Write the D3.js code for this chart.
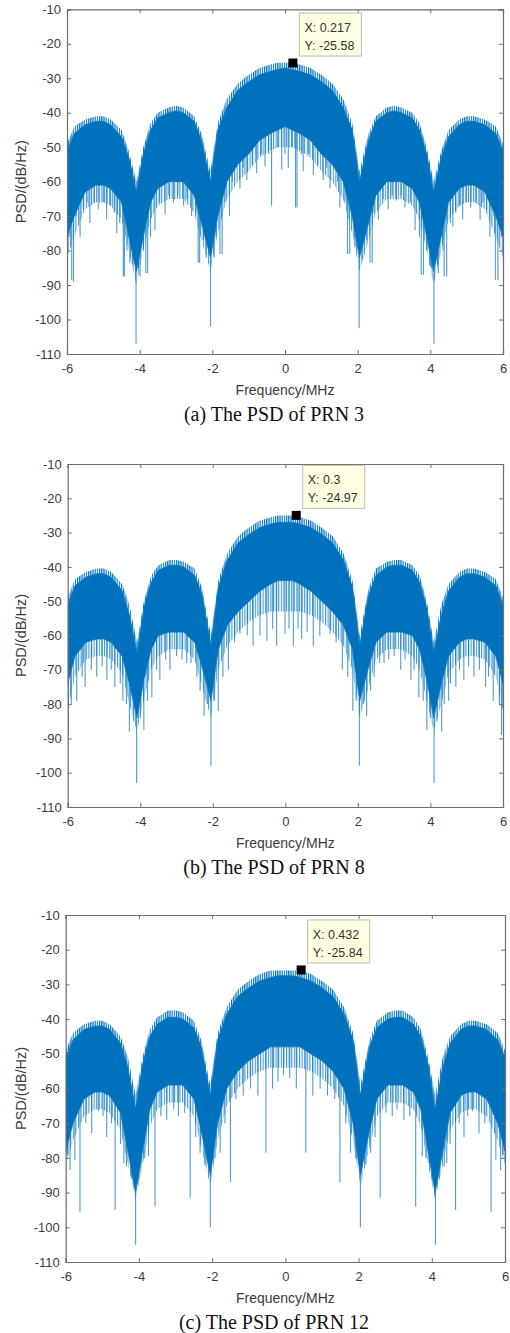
<!DOCTYPE html>
<html>
<head>
<meta charset="utf-8">
<script src="https://cdn.jsdelivr.net/npm/d3@7"></script>
<style>
  body { margin: 0; background: #fff; }
  svg { display: block; }
</style>
</head>
<body>
<script>
const freq = [-6, -5.8, -5.5, -5.2, -5.0, -4.8, -4.5, -4.3, -4.09, -3.9, -3.7, -3.5, -3.2, -3.0, -2.8, -2.5, -2.3, -2.05,
  -1.85, -1.6, -1.3, -1.0, -0.7, -0.4, -0.2, 0, 0.2, 0.4, 0.7, 1.0, 1.3, 1.6, 1.85,
  2.05, 2.3, 2.5, 2.8, 3.0, 3.2, 3.5, 3.7, 3.9, 4.09, 4.3, 4.5, 4.8, 5.0, 5.2, 5.5, 5.8, 6];

// PRN 3: hair tips, top of dense band, bottom of dense band, bottom of light fringe (dB/Hz)
const hair3 = [-49, -44, -42, -41, -41, -42, -45, -51, -60, -50, -43, -40, -38.5, -38, -38.5, -41, -46, -57,
  -43, -36, -31.5, -29, -27, -26, -25.5, -25.5, -25.5, -26, -27, -29, -31.5, -36, -43,
  -57, -46, -41, -38.5, -38, -38.5, -40, -43, -50, -60, -51, -45, -42, -41, -41, -42, -44, -49];
const upper3 = [-51, -46, -43.5, -42.5, -42.5, -43.5, -47, -53, -63, -52, -45, -41.5, -40, -39.5, -40, -42.5, -48, -60,
  -45, -38.5, -33.5, -31, -29, -28, -27.5, -27, -27.5, -28, -29, -31, -33.5, -38.5, -45,
  -60, -48, -42.5, -40, -39.5, -40, -41.5, -45, -52, -63, -53, -47, -43.5, -42.5, -42.5, -43.5, -46, -51];
const lower3 = [-76, -70, -63, -61, -61, -62, -66, -76, -86, -76, -66, -62, -60, -60, -60, -64, -72, -82,
  -70, -60, -55, -52, -48, -46, -45, -44, -45, -46, -48, -52, -55, -60, -70,
  -82, -72, -64, -60, -60, -60, -62, -66, -76, -86, -76, -66, -62, -61, -61, -63, -70, -76];
const fringe3 = [-82, -76, -68, -66, -66, -67, -71, -80, -90, -80, -71, -67, -65, -65, -65, -69, -77, -86,
  -75, -65, -60, -57, -53, -51, -50, -50, -50, -51, -53, -57, -60, -65, -75,
  -86, -77, -69, -65, -65, -65, -67, -71, -80, -90, -80, -71, -67, -66, -66, -68, -76, -82];
// single deep lines below the band: [frequency, dB/Hz]
const spikes3 = [[-5.94, -76], [-5.87, -88.5], [-5.82, -89], [-5.75, -70], [-5.64, -76], [-5.55, -68], [-5.45, -66],
  [-5.37, -72], [-5.25, -66], [-5.14, -68], [-5.0, -66], [-4.91, -71], [-4.8, -67], [-4.7, -69], [-4.63, -75],
  [-4.55, -72], [-4.45, -87.5], [-4.42, -87.5], [-4.35, -80], [-4.27, -83.5], [-4.2, -84], [-4.1, -107],
  [-4.03, -85], [-3.99, -87.5], [-3.9, -80], [-3.83, -86.5], [-3.78, -86.5], [-3.7, -76], [-3.58, -74],
  [-3.45, -66], [-3.3, -69.5], [-3.2, -64], [-3.07, -66], [-2.95, -64], [-2.79, -67], [-2.7, -65], [-2.57, -70],
  [-2.45, -69], [-2.39, -83.5], [-2.35, -83.5], [-2.25, -77], [-2.17, -82], [-2.1, -80], [-2.05, -102],
  [-1.95, -82], [-1.9, -76], [-1.79, -81], [-1.73, -81], [-1.65, -66], [-1.53, -70], [-1.45, -60], [-1.24, -62],
  [-1.15, -56], [-1.05, -59.5], [-0.9, -55], [-0.78, -57.5], [-0.65, -52], [-0.55, -55.5], [-0.45, -52],
  [-0.37, -67], [-0.2, -50], [-0.09, -56.5], [0.0, -52], [0.09, -56], [0.2, -50], [0.29, -67.5], [0.33, -67.5],
  [0.45, -52], [0.5, -57], [0.65, -52], [0.78, -58], [0.9, -55], [1.05, -59.5], [1.15, -56], [1.24, -62],
  [1.45, -60], [1.51, -67.5], [1.65, -66], [1.72, -81], [1.78, -81], [1.9, -76], [1.93, -79], [2.04, -102.5],
  [2.1, -80], [2.14, -82.5], [2.25, -77], [2.34, -83.5], [2.4, -83.5], [2.45, -69], [2.57, -71], [2.7, -65],
  [2.84, -68], [2.95, -64], [3.07, -65.5], [3.2, -64], [3.3, -67.5], [3.45, -66], [3.58, -74], [3.7, -76],
  [3.75, -87], [3.81, -87], [3.9, -80], [4.0, -84.5], [4.03, -85], [4.1, -107], [4.2, -84], [4.22, -86.5],
  [4.35, -80], [4.38, -87.5], [4.45, -87.5], [4.55, -72], [4.62, -73], [4.7, -69], [4.8, -67], [4.89, -71],
  [5.0, -66], [5.11, -67.5], [5.25, -66], [5.37, -71], [5.45, -66], [5.55, -68], [5.64, -76], [5.75, -70],
  [5.79, -88.5], [5.86, -88.5], [5.96, -76]];

// PRN 8
const hair8 = [-49, -43.5, -41.5, -40.5, -40.5, -41.5, -45, -51, -62, -50, -42.5, -39.5, -38, -38, -38.5, -40.5, -46, -60,
  -44, -36, -31, -28.5, -26.5, -25.5, -25, -25, -25, -25.5, -26.5, -28.5, -31, -36, -44,
  -60, -46, -40.5, -38.5, -38, -38, -39.5, -42.5, -50, -62, -51, -45, -41.5, -40.5, -40.5, -41.5, -43.5, -49];
const upper8 = [-51, -45.5, -43, -42, -42, -43, -47, -54, -65, -52, -44.5, -41, -39.5, -39.5, -40, -42.5, -48, -63,
  -46, -38, -33, -30.5, -28.5, -27.5, -27, -27, -27, -27.5, -28.5, -30.5, -33, -38, -46,
  -63, -48, -42.5, -40, -39.5, -39.5, -41, -44.5, -52, -65, -54, -47, -43, -42, -42, -43, -45.5, -51];
const lower8 = [-74, -66, -62, -61, -61, -62, -66, -74, -84, -73, -64, -60, -59, -59, -59, -62, -69, -79,
  -64, -57, -53, -50, -47, -45, -44, -44, -44, -45, -47, -50, -53, -57, -64,
  -79, -69, -62, -59, -59, -59, -60, -64, -73, -84, -74, -66, -62, -61, -61, -62, -66, -74];
const fringe8 = [-82, -72, -67, -66, -66, -67, -71, -80, -88, -79, -70, -66, -64, -64, -64, -67, -75, -84,
  -70, -63, -59, -56, -54, -53, -53, -53, -53, -53, -54, -56, -59, -63, -70,
  -84, -75, -67, -64, -64, -64, -66, -70, -79, -88, -80, -71, -67, -66, -66, -67, -72, -82];
const spikes8 = [[-5.98, -89], [-5.9, -80], [-5.75, -79], [-5.6, -72], [-5.52, -75], [-5.35, -70], [-5.2, -72],
  [-5.05, -69], [-4.92, -73], [-4.8, -70], [-4.7, -75], [-4.55, -74], [-4.48, -79], [-4.38, -80], [-4.3, -88],
  [-4.18, -85], [-4.1, -103], [-4.0, -84], [-3.9, -87.5], [-3.8, -79], [-3.68, -78], [-3.55, -70], [-3.46, -73],
  [-3.3, -67], [-3.18, -70], [-3.0, -66], [-2.85, -67], [-2.72, -68], [-2.6, -68], [-2.44, -72], [-2.35, -76],
  [-2.24, -83.5], [-2.15, -80], [-2.05, -98], [-1.95, -79], [-1.85, -82], [-1.72, -72], [-1.57, -70],
  [-1.4, -62], [-1.25, -59.5], [-1.05, -60], [-0.89, -63], [-0.7, -60], [-0.51, -61.5], [-0.35, -58],
  [-0.24, -63], [-0.01, -59.5], [0.1, -58], [0.22, -63], [0.35, -58], [0.45, -61], [0.6, -59], [0.77, -63],
  [0.95, -60], [1.23, -59.5], [1.4, -62], [1.57, -70], [1.72, -72], [1.86, -82], [1.95, -79], [2.04, -98],
  [2.15, -80], [2.24, -83.5], [2.35, -76], [2.45, -72], [2.6, -68], [2.72, -68], [2.85, -67], [3.0, -66],
  [3.18, -70], [3.3, -67], [3.46, -73], [3.55, -70], [3.68, -78], [3.8, -79], [3.9, -87.5], [4.0, -84],
  [4.1, -103], [4.18, -85], [4.31, -88], [4.38, -80], [4.5, -79], [4.55, -74], [4.7, -75], [4.8, -70],
  [4.92, -73], [5.05, -69], [5.2, -72], [5.35, -70], [5.52, -75], [5.6, -72], [5.73, -79], [5.9, -80], [5.96, -89]];

// PRN 12
const hair12 = [-49, -44, -41.5, -40.5, -40.5, -41.5, -45, -51, -62, -51, -43, -39.5, -37.5, -37.5, -38, -40.5, -46, -59,
  -44, -36.5, -31.5, -29, -27, -26, -26, -26, -26, -26, -27, -29, -31.5, -36.5, -44,
  -59, -46, -40.5, -38, -37.5, -37.5, -39.5, -43, -51, -62, -51, -45, -41.5, -40.5, -40.5, -41.5, -44, -49];
const upper12 = [-51, -46, -43, -42, -42, -43, -47, -54, -66, -53, -45, -41.5, -39.5, -39.5, -40, -42.5, -48, -62,
  -46, -38.5, -33.5, -31, -29, -28, -27.5, -27.5, -27.5, -28, -29, -31, -33.5, -38.5, -46,
  -62, -48, -42.5, -40, -39.5, -39.5, -41.5, -45, -53, -66, -54, -47, -43, -42, -42, -43, -46, -51];
const lower12 = [-78, -70, -63, -61, -61, -62, -67, -78, -90, -78, -66, -61, -59, -59, -59, -63, -72, -85,
  -70, -60, -55, -52, -50, -48, -48, -48, -48, -48, -50, -52, -55, -60, -70,
  -85, -72, -63, -59, -59, -59, -61, -66, -78, -90, -78, -67, -62, -61, -61, -63, -70, -78];
const fringe12 = [-82, -75, -68, -66, -66, -67, -72, -82, -92, -82, -71, -66, -64, -64, -64, -68, -77, -88,
  -75, -65, -60, -57, -55, -54, -54, -54, -54, -54, -55, -57, -60, -65, -75,
  -88, -77, -68, -64, -64, -64, -66, -71, -82, -92, -82, -72, -67, -66, -66, -68, -75, -82];
const spikes12 = [[-5.95, -79], [-5.88, -83.5], [-5.75, -80.5], [-5.61, -95.5], [-5.45, -70], [-5.29, -73],
  [-5.11, -66.5], [-4.98, -68], [-4.88, -74], [-4.75, -70], [-4.65, -95], [-4.5, -76], [-4.41, -81.5],
  [-4.34, -82.5], [-4.2, -86], [-4.09, -105], [-4.0, -86], [-3.92, -81.5], [-3.84, -80], [-3.74, -79.5],
  [-3.56, -94], [-3.4, -68], [-3.24, -69], [-3.05, -66], [-2.92, -68], [-2.75, -67], [-2.6, -91.5],
  [-2.45, -74], [-2.33, -78.5], [-2.2, -82], [-2.05, -100], [-1.92, -80], [-1.78, -78.5], [-1.65, -70],
  [-1.5, -87], [-1.35, -63], [-1.15, -62], [-0.95, -60], [-0.75, -62], [-0.53, -78.5], [-0.35, -60],
  [-0.2, -58], [-0.05, -56], [0.12, -57], [0.3, -60], [0.56, -78.5], [0.75, -62], [0.95, -60], [1.15, -62],
  [1.35, -63], [1.49, -87], [1.65, -70], [1.78, -78.5], [1.92, -80], [2.05, -100], [2.2, -82], [2.33, -78.5],
  [2.45, -74], [2.59, -91.5], [2.75, -67], [2.92, -68], [3.05, -66], [3.24, -69], [3.4, -68], [3.56, -94],
  [3.74, -79.5], [3.84, -80], [3.92, -81.5], [4.0, -86], [4.1, -105], [4.2, -86], [4.34, -82.5], [4.41, -81.5],
  [4.5, -76], [4.65, -95], [4.75, -70], [4.88, -74], [4.98, -68], [5.11, -66.5], [5.29, -73], [5.45, -70],
  [5.62, -95.5], [5.75, -80.5], [5.88, -83.5], [5.95, -79]];

const xTicks = [-6, -4, -2, 0, 2, 4, 6];
const yTicks = [-110, -100, -90, -80, -70, -60, -50, -40, -30, -20, -10];
const tipX = [0.217, 0.3, 0.432];
const tipY = [-25.58, -24.97, -25.84];
const captions = ["(a) The PSD of PRN 3", "(b) The PSD of PRN 8", "(c) The PSD of PRN 12"];

const blue = "#0072bd";
const sans = "'Liberation Sans', Arial, Helvetica, sans-serif";
const serif = "'Liberation Serif', 'Times New Roman', serif";

const svg = d3.select("body").append("svg")
  .attr("width", 510)
  .attr("height", 1333);

// comb textures so the ragged edges read as many thin lines
const defs = svg.append("defs");
defs.append("pattern").attr("id", "hairComb")
  .attr("width", 2.2).attr("height", 20).attr("patternUnits", "userSpaceOnUse")
  .append("rect").attr("width", 1.2).attr("height", 20).attr("fill", blue);
defs.append("pattern").attr("id", "fringeComb")
  .attr("width", 2.6).attr("height", 20).attr("patternUnits", "userSpaceOnUse")
  .append("rect").attr("width", 1.1).attr("height", 20).attr("fill", blue).attr("fill-opacity", 0.75);

// where each axes box sits on the page
const panels = [
  { top: 9.3, bottom: 354, left: 67, right: 503, hair: hair3, upper: upper3, lower: lower3, fringe: fringe3, spikes: spikes3 },
  { top: 464, bottom: 807, left: 67.7, right: 503, hair: hair8, upper: upper8, lower: lower8, fringe: fringe8, spikes: spikes8 },
  { top: 915, bottom: 1262, left: 65.7, right: 505, hair: hair12, upper: upper12, lower: lower12, fringe: fringe12, spikes: spikes12 },
];

panels.forEach((p, i) => {
  const x = d3.scaleLinear().domain([-6, 6]).range([p.left, p.right]);
  const y = d3.scaleLinear().domain([-110, -10]).range([p.bottom, p.top]);
  // piecewise-linear lookup of the band bottom, so a spike starts at the band
  const bandBottom = d3.scaleLinear().domain(freq).range(p.lower);

  const g = svg.append("g");

  g.append("clipPath").attr("id", "clip" + i)
    .append("rect")
    .attr("x", p.left).attr("y", p.top)
    .attr("width", p.right - p.left).attr("height", p.bottom - p.top);

  const plot = g.append("g").attr("clip-path", `url(#clip${i})`);

  const rows = freq.map((f, k) => ({
    f, hair: p.hair[k], hi: p.upper[k], lo: p.lower[k], fr: p.fringe[k],
  }));

  const areaBetween = (a, b) => d3.area()
    .x((d) => x(d.f))
    .y0((d) => y(d[a]))
    .y1((d) => y(d[b]));

  plot.selectAll(".spike")
    .data(p.spikes)
    .join("line")
    .attr("class", "spike")
    .attr("x1", (d) => x(d[0]))
    .attr("x2", (d) => x(d[0]))
    .attr("y1", (d) => y(bandBottom(d[0])))
    .attr("y2", (d) => y(d[1]))
    .attr("stroke", blue)
    .attr("stroke-opacity", 0.7)
    .attr("stroke-width", 1.1);

  plot.append("path")
    .datum(rows)
    .attr("fill", "url(#fringeComb)")
    .attr("d", areaBetween("fr", "lo"));

  plot.append("path")
    .datum(rows)
    .attr("fill", "url(#hairComb)")
    .attr("d", areaBetween("hi", "hair"));

  plot.append("path")
    .datum(rows)
    .attr("fill", blue)
    .attr("stroke", blue)
    .attr("stroke-width", 0.8)
    .attr("d", areaBetween("lo", "hi"));

  // axes: ticks point inward on all four sides (MATLAB box)
  const axisColor = "#6e6e6e";
  const bottomAxis = g.append("g")
    .attr("transform", `translate(0,${p.bottom})`)
    .call(d3.axisBottom(x).tickValues(xTicks).tickSize(-4).tickPadding(10));
  const topAxis = g.append("g")
    .attr("transform", `translate(0,${p.top})`)
    .call(d3.axisTop(x).tickValues(xTicks).tickSize(-4).tickFormat(""));
  const leftAxis = g.append("g")
    .attr("transform", `translate(${p.left},0)`)
    .call(d3.axisLeft(y).tickValues(yTicks).tickSize(-4).tickPadding(6));
  const rightAxis = g.append("g")
    .attr("transform", `translate(${p.right},0)`)
    .call(d3.axisRight(y).tickValues(yTicks).tickSize(-4).tickFormat(""));

  [bottomAxis, topAxis, leftAxis, rightAxis].forEach((a) => {
    a.select(".domain").attr("stroke", axisColor).attr("stroke-width", 1.2);
    a.selectAll(".tick line").attr("stroke", axisColor);
    a.selectAll("text")
      .attr("fill", "#3c3c3c")
      .style("font-family", sans)
      .style("font-size", "13px");
  });
  // plain hyphen minus, as in the figure
  bottomAxis.selectAll("text").text((d) => String(d));
  leftAxis.selectAll("text").text((d) => String(d));

  g.append("text")
    .attr("x", (p.left + p.right) / 2)
    .attr("y", p.bottom + 41)
    .attr("text-anchor", "middle")
    .attr("fill", "#3c3c3c")
    .style("font-family", sans)
    .style("font-size", "14px")
    .text("Frequency/MHz");

  g.append("text")
    .attr("transform", `translate(26,${(p.top + p.bottom) / 2}) rotate(-90)`)
    .attr("text-anchor", "middle")
    .attr("fill", "#3c3c3c")
    .style("font-family", sans)
    .style("font-size", "14.5px")
    .text("PSD/(dB/Hz)");

  g.append("text")
    .attr("x", 274)
    .attr("y", p.bottom + 67)
    .attr("text-anchor", "middle")
    .attr("fill", "#111")
    .style("font-family", serif)
    .style("font-size", "20px")
    .text(captions[i]);

  // data tip
  const mx = x(tipX[i]);
  const my = y(tipY[i]);
  g.append("rect")
    .attr("x", mx - 4.5).attr("y", my - 4.5)
    .attr("width", 9).attr("height", 9)
    .attr("fill", "#000");

  const boxW = 62, boxH = 43;
  const bx = mx + 6.5, by = my - 7 - boxH;
  g.append("rect")
    .attr("x", bx).attr("y", by)
    .attr("width", boxW).attr("height", boxH)
    .attr("fill", "#ffffe1")
    .attr("stroke", "#bdbdb0")
    .attr("stroke-width", 1);
  g.append("text")
    .attr("x", bx + 5).attr("y", by + 19)
    .attr("fill", "#333")
    .style("font-family", sans)
    .style("font-size", "12.5px")
    .text("X: " + tipX[i]);
  g.append("text")
    .attr("x", bx + 5).attr("y", by + 37)
    .attr("fill", "#333")
    .style("font-family", sans)
    .style("font-size", "12.5px")
    .text("Y: " + tipY[i]);
});
</script>
</body>
</html>
